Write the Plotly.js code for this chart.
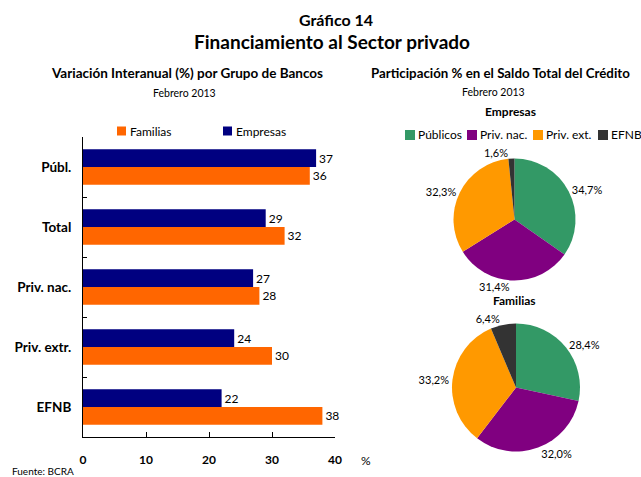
<!DOCTYPE html>
<html><head><meta charset="utf-8">
<script src="https://cdn.plot.ly/plotly-3.0.1.min.js"></script>
<style>body{margin:0;padding:0;background:#fff}#chart{width:641px;height:477px}</style>
</head><body><div id="chart"></div>
<script>
const bancos = ['Públ.', 'Total', 'Priv. nac.', 'Priv. extr.', 'EFNB'];
const empresasVar = [37, 29, 27, 24, 22];
const familiasVar = [36, 32, 28, 30, 38];
const xTicks = [0, 10, 20, 30, 40];
const barSeries = ['Familias', 'Empresas'];
const barColors = ['#FF6600', '#000080'];

const sectores = ['Públicos', 'Priv. nac.', 'Priv. ext.', 'EFNB'];
const empresasPart = [34.7, 31.4, 32.3, 1.6];
const familiasPart = [28.4, 32.0, 33.2, 6.4];
const pieColors = ['#339966', '#800080', '#FF9900', '#333333'];

const FONT = 'Lato, "Open Sans", sans-serif';
const W = 641, H = 477;
const px = v => v / W;
const py = v => 1 - v / H;
const pct = arr => arr.map(v => v.toFixed(1).replace('.', ',') + '%');

const traces = [
  {type:'bar', orientation:'h', name:'Empresas', y:bancos, x:empresasVar,
   marker:{color:barColors[1]}, text:empresasVar.map(String), textposition:'outside',
   textfont:{family:FONT, size:12, color:'#000'}, cliponaxis:false, constraintext:'none',
   hoverinfo:'none', showlegend:false},
  {type:'bar', orientation:'h', name:'Familias', y:bancos, x:familiasVar,
   marker:{color:barColors[0]}, text:familiasVar.map(String), textposition:'outside',
   textfont:{family:FONT, size:12, color:'#000'}, cliponaxis:false, constraintext:'none',
   hoverinfo:'none', showlegend:false},
  {type:'pie', labels:sectores, values:empresasPart, sort:false, direction:'clockwise', rotation:0,
   marker:{colors:pieColors}, text:pct(empresasPart), textinfo:'text', textposition:'outside',
   textfont:{family:FONT, size:11, color:'#000'}, hoverinfo:'none', showlegend:false, automargin:false,
   domain:{x:[px(453.5), px(575.5)], y:[py(280.5), py(158.5)]}},
  {type:'pie', labels:sectores, values:familiasPart, sort:false, direction:'clockwise', rotation:0,
   marker:{colors:pieColors}, text:pct(familiasPart), textinfo:'text', textposition:'outside',
   textfont:{family:FONT, size:11, color:'#000'}, hoverinfo:'none', showlegend:false, automargin:false,
   domain:{x:[px(452), px(580)], y:[py(451.5), py(323.5)]}}
];

const ann = (text, x, y, size, extra) => Object.assign(
  {text:text, x:px(x), y:py(y), xref:'paper', yref:'paper', showarrow:false,
   xanchor:'center', yanchor:'middle', font:{size:size}}, extra || {});

// legend keys (manual, compact like the original)
const shapes = [];
const annotations = [
  ann('<b>Gráfico 14</b>', 336, 20, 16),
  ann('<b>Financiamiento al Sector privado</b>', 332, 42, 19),
  ann('<b>Variación Interanual (%) por Grupo de Bancos</b>', 187, 73, 13.5),
  ann('Febrero 2013', 184, 93, 10.5),
  ann('<b>Participación % en el Saldo Total del Crédito</b>', 500, 73, 13.3),
  ann('Febrero 2013', 493, 92, 10.5),
  ann('<b>Empresas</b>', 510, 112, 12),
  ann('<b>Familias</b>', 514, 300, 12),
  ann('%', 366, 460, 12),
  ann('Fuente: BCRA', 10, 471, 10, {xanchor:'left'})
];
const barLegX = [117, 223];
barSeries.forEach((s, i) => {
  shapes.push({type:'rect', xref:'paper', yref:'paper', x0:px(barLegX[i]), x1:px(barLegX[i] + 9),
    y0:py(135.5), y1:py(126.5), fillcolor:barColors[i], line:{width:0}});
  annotations.push(ann(s, barLegX[i] + 11, 131, 12, {xanchor:'left'}));
});
const pieLegX = [405, 467, 533, 598];
sectores.forEach((s, i) => {
  shapes.push({type:'rect', xref:'paper', yref:'paper', x0:px(pieLegX[i]), x1:px(pieLegX[i] + 10),
    y0:py(140), y1:py(130), fillcolor:pieColors[i], line:{width:0}});
  annotations.push(ann(s, pieLegX[i] + 11, 135, 12, {xanchor:'left'}));
});

const layout = {
  width:W, height:H, margin:{l:0, r:0, t:0, b:0, autoexpand:false},
  paper_bgcolor:'#fff', plot_bgcolor:'#fff',
  font:{family:FONT, color:'#000', size:12},
  barmode:'group', bargap:0.41, bargroupgap:0,
  showlegend:false,
  xaxis:{domain:[px(83), px(335)], range:[0, 40], tickvals:xTicks, ticktext:xTicks.map(String),
    ticks:'inside', ticklen:5, tickcolor:'#000', showline:true, linecolor:'#000', linewidth:1,
    showgrid:false, zeroline:false, automargin:false,
    tickfont:{family:FONT, size:12, color:'#000', weight:'bold'},
    ticklabelstandoff:12, fixedrange:true},
  yaxis:{domain:[py(437), py(137)], autorange:'reversed', type:'category',
    ticks:'inside', tickson:'boundaries', ticklen:4, tickcolor:'#000', showline:true, linecolor:'#000',
    showgrid:false, zeroline:false, automargin:false,
    tickfont:{family:FONT, size:13.5, color:'#000', weight:'bold'},
    ticklabelstandoff:8, fixedrange:true},
  shapes:shapes,
  annotations:annotations
};

Plotly.newPlot('chart', traces, layout, {displayModeBar:false, staticPlot:true});
</script></body></html>
